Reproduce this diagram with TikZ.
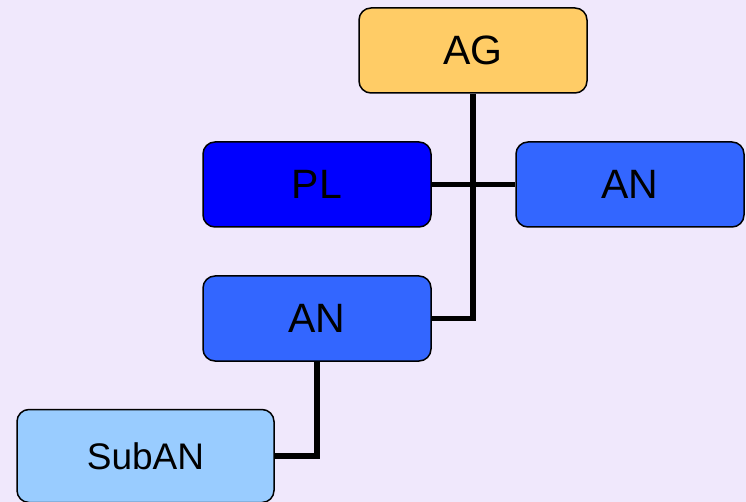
\documentclass[tikz,border=0pt]{standalone}
\usepackage{fontspec}
\setmainfont{Liberation Sans}
\definecolor{bgc}{RGB}{240,232,252}
\definecolor{agc}{RGB}{255,204,102}
\definecolor{plc}{RGB}{0,0,255}
\definecolor{anc}{RGB}{51,102,255}
\definecolor{subc}{RGB}{153,204,255}
\tikzset{
  box/.style={draw=black, line width=1.5pt, rounded corners=12pt, minimum width=228pt, minimum height=85pt, inner sep=0pt, font=\fontsize{41}{49}\selectfont},
  conn/.style={line width=5.5pt, draw=black}
}
\begin{document}
\begin{tikzpicture}[x=1pt,y=-1pt]
\fill[bgc] (0,0) rectangle (746,502);
\useasboundingbox (0,0) rectangle (746,502);
\node[box, fill=agc] (ag) at (473,50.5) {AG};
\node[box, fill=plc] (pl) at (317,184.5) {PL};
\node[box, fill=anc] (anr) at (630,184.5) {AN};
\node[box, fill=anc] (anm) at (317,318.5) {AN};
\node[box, fill=subc, minimum width=257pt, minimum height=93pt, font=\fontsize{37}{44}\selectfont] (sub) at (145.5,456) {SubAN};
\draw[conn] (pl.east) -- (anr.west);
\draw[conn] (ag.south) |- (anm.east);
\draw[conn] (anm.south) |- (sub.east);
\end{tikzpicture}
\end{document}
